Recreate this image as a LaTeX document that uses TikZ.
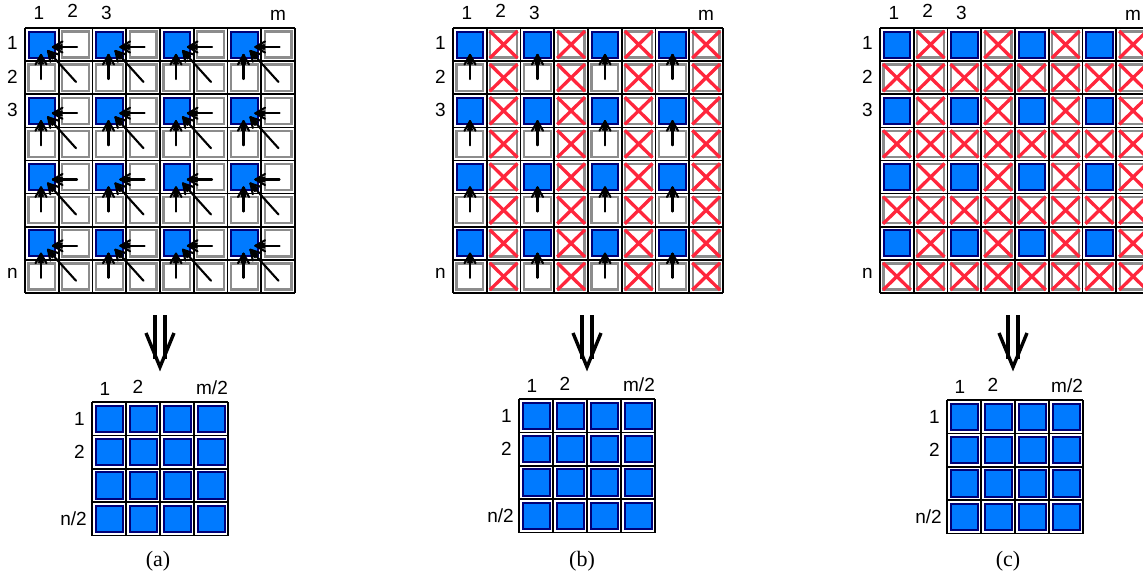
\documentclass[tikz,border=0pt]{standalone}
\usepackage{fontspec}
\setmainfont{Liberation Serif}
\newfontfamily\lblfont{Liberation Sans}
\usetikzlibrary{calc}

\definecolor{cellblue}{RGB}{0,122,255}
\definecolor{cellnavy}{RGB}{0,0,120}
\definecolor{crossred}{RGB}{255,38,60}
\definecolor{framegray}{RGB}{140,140,140}

\tikzset{
  gridline/.style={black, line width=1.7pt},
  emptycell/.style={draw=framegray, line width=2.4pt, fill=white},
  bluecell/.style={draw=cellnavy, line width=2pt, fill=cellblue},
  crossline/.style={crossred, line width=3.3pt},
  arrowline/.style={black, line width=2.1pt, line cap=round},
  bigarrow/.style={black, line width=3.4pt},
  idx/.style={font=\lblfont\fontsize{19}{19}\selectfont, inner sep=0pt},
  caption/.style={font=\fontsize{22}{22}\selectfont, inner sep=0pt},
}

% cell width / height of the large grids
\def\cw{33.75}
\def\ch{33.125}

% shaft from tail #1 to tip #2, head made of a fan of strokes
\newcommand\fanarrow[2]{%
  \draw[arrowline] (#1) -- (#2);
  \foreach \ang/\len in {-30/11,-12/9,12/9,30/11}{\draw[arrowline] (#2) -- ($(#2)!\len pt!\ang:(#1)$);}
}

% one cell: #1 kind (0 empty, 1 blue, 2 crossed), corners (#2,#3)-(#4,#5)
\newcommand\drawcell[5]{%
  \ifnum#1=1
    \draw[bluecell] (#2+3.5,#3+3.5) rectangle (#4-3.5,#5-3.5);
  \else
    \draw[emptycell] (#2+3.5,#3+3.5) rectangle (#4-3.5,#5-3.5);
    \ifnum#1=2
      \draw[crossline] (#2+3,#3+3) -- (#4-3,#5-3) (#2+3,#5-3) -- (#4-3,#3+3);
    \fi
  \fi
}

% full 8x8 grid at (#1,#2); #3 = 0 (a), 1 (b), 2 (c)
\newcommand\biggrid[3]{%
  \foreach \c in {0,...,7}{\foreach \r in {0,...,7}{
    \pgfmathsetmacro\xa{#1+\c*\cw}\pgfmathsetmacro\ya{#2+\r*\ch}
    \pgfmathsetmacro\xb{\xa+\cw}\pgfmathsetmacro\yb{\ya+\ch}
    \pgfmathtruncatemacro\kind{
      (mod(\c,2)==0 && mod(\r,2)==0) ? 1 :
      ((#3==1 && mod(\c,2)==1) || #3==2 ? 2 : 0)}
    \drawcell{\kind}{\xa}{\ya}{\xb}{\yb}
  }}
  \foreach \k in {0,...,8}{
    \draw[gridline] (#1+\k*\cw,#2) -- (#1+\k*\cw,#2+8*\ch);
    \draw[gridline] (#1,#2+\k*\ch) -- (#1+8*\cw,#2+\k*\ch);
  }
}

% reduced 4x4 grid at (#1,#2), tag #3
\newcommand\smallgrid[3]{%
  \foreach \c in {0,...,3}{\foreach \r in {0,...,3}{
    \pgfmathsetmacro\xa{#1+\c*34}\pgfmathsetmacro\ya{#2+\r*33.4}
    \pgfmathsetmacro\xb{\xa+34}\pgfmathsetmacro\yb{\ya+33.4}
    \drawcell{1}{\xa}{\ya}{\xb}{\yb}
  }}
  \foreach \k in {0,...,4}{
    \draw[gridline] (#1+\k*34,#2) -- (#1+\k*34,#2+4*33.4);
    \draw[gridline] (#1,#2+\k*33.4) -- (#1+4*34,#2+\k*33.4);
  }
  \node[idx] (#3-sc1) at (#1+13,#2-13) {1};
  \node[idx] (#3-sc2) at (#1+46,#2-15) {2};
  \node[idx] (#3-scm) at (#1+120,#2-14) {m/2};
  \node[idx, anchor=east] (#3-sr1) at (#1-7,#2+16.7) {1};
  \node[idx, anchor=east] (#3-sr2) at (#1-7,#2+50.1) {2};
  \node[idx, anchor=east] (#3-srn) at (#1-5,#2+116.9) {n/2};
}

% axis labels of a large grid at (#1,#2), tag #3
\newcommand\biglabels[3]{%
  \node[idx] (#3-c1) at (#1+\cw*0.5-3,#2-15) {1};
  \node[idx] (#3-c2) at (#1+\cw*1.5-3,#2-17) {2};
  \node[idx] (#3-c3) at (#1+\cw*2.5-3,#2-15) {3};
  \node[idx] (#3-cm) at (#1+\cw*7.5,#2-13) {m};
  \node[idx, anchor=east] (#3-r1) at (#1-7,#2+\ch*0.5-2) {1};
  \node[idx, anchor=east] (#3-r2) at (#1-7,#2+\ch*1.5-1) {2};
  \node[idx, anchor=east] (#3-r3) at (#1-7,#2+\ch*2.5-1) {3};
  \node[idx, anchor=east] (#3-rn) at (#1-7,#2+\ch*7.5-3) {n};
}

% double-shafted downward arrow centred at x=#1, tag #2
\newcommand\reducearrow[2]{%
  \coordinate (#2-dl) at (#1-5,315);
  \coordinate (#2-dr) at (#1+5,315);
  \coordinate (#2-dlb) at (#1-5,359);
  \coordinate (#2-drb) at (#1+5,359);
  \coordinate (#2-tip) at (#1,367);
  \coordinate (#2-bl) at (#1-14,333);
  \coordinate (#2-br) at (#1+14,333);
  \draw[bigarrow] (#2-dl) -- (#2-dlb) (#2-dr) -- (#2-drb);
  \draw[bigarrow, line join=miter] (#2-bl) -- (#2-tip) -- (#2-br);
}

\begin{document}
\begin{tikzpicture}[x=1pt, y=-1pt]
\useasboundingbox (0,0) rectangle (1143,579);
\clip (0,0) rectangle (1143,579);
\fill[white] (0,0) rectangle (1143,579);

% ---------- (a) ----------
\biggrid{25}{28}{0}
\biglabels{25}{28}{a}
\foreach \i in {0,...,3}{\foreach \j in {0,...,3}{
  \pgfmathsetmacro\bx{25+2*\i*\cw}\pgfmathsetmacro\by{28+2*\j*\ch}
  \coordinate (ah-\i-\j-t) at (\bx+52,\by+19);
  \coordinate (ah-\i-\j-h) at (\bx+28,\by+19);
  \coordinate (av-\i-\j-t) at (\bx+16,\by+51);
  \coordinate (av-\i-\j-h) at (\bx+16,\by+27);
  \coordinate (ad-\i-\j-t) at (\bx+51,\by+54);
  \coordinate (ad-\i-\j-h) at (\bx+23,\by+23);
  \fanarrow{ah-\i-\j-t}{ah-\i-\j-h}
  \fanarrow{av-\i-\j-t}{av-\i-\j-h}
  \fanarrow{ad-\i-\j-t}{ad-\i-\j-h}
}}

% ---------- (b) ----------
\biggrid{453}{28}{1}
\biglabels{453}{28}{b}
\foreach \i in {0,...,3}{\foreach \j in {0,...,3}{
  \pgfmathsetmacro\bx{453+2*\i*\cw}\pgfmathsetmacro\by{28+2*\j*\ch}
  \coordinate (bv-\i-\j-t) at (\bx+17,\by+51);
  \coordinate (bv-\i-\j-h) at (\bx+17,\by+27);
  \fanarrow{bv-\i-\j-t}{bv-\i-\j-h}
}}

% ---------- (c) ----------
\biggrid{880}{28}{2}
\biglabels{880}{28}{c}

% ---------- reduction arrows ----------
\reducearrow{160}{da}
\reducearrow{587}{db}
\reducearrow{1013}{dc}

% ---------- reduced grids ----------
\smallgrid{92}{402}{sa}
\smallgrid{519}{399}{sb}
\smallgrid{947}{400}{sc}

% ---------- captions ----------
\node[caption] (capa) at (158,561) {(a)};
\node[caption] (capb) at (582,561) {(b)};
\node[caption] (capc) at (1008,561) {(c)};
\end{tikzpicture}
\end{document}
